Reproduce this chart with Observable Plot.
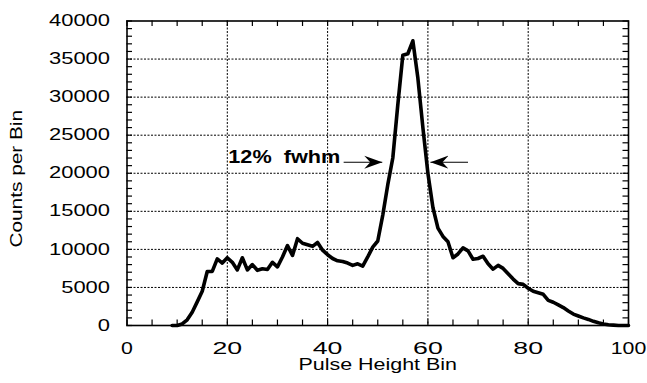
<!DOCTYPE html>
<html><head><meta charset="utf-8">
<script src="https://cdn.jsdelivr.net/npm/d3@7"></script>
<script src="https://cdn.jsdelivr.net/npm/@observablehq/plot@0.6"></script>
<style>
html,body{margin:0;padding:0;background:#fff;}
</style></head><body><div id="chart"></div>
<script>
// ---- data ----
const bins = [9,10,11,12,13,14,15,16,17,18,19,20,21,22,23,24,25,26,27,28,29,30,
  31,32,33,34,35,36,37,38,39,40,41,42,43,44,45,46,47,48,49,50,
  51,52,53,54,55,56,57,58,59,60,61,62,63,64,65,66,67,68,69,70,
  71,72,73,74,75,76,77,78,79,80,81,82,83,84,85,86,87,88,89,90,
  91,92,93,94,95,96,97,98,99,100];
const counts = [0,0,200,750,1750,3100,4500,7100,7100,8750,8200,8900,8300,7300,8900,7300,8000,7250,7450,7350,8300,7700,
  9000,10500,9200,11400,10800,10600,10400,10900,9900,9300,8800,8500,8400,8200,7900,8100,7800,9000,10300,11100,
  14500,18500,22000,29000,35500,35700,37400,32500,26000,20000,15500,12800,11700,11000,8900,9400,10200,9800,8700,8800,
  9100,8100,7400,7900,7500,6800,6100,5500,5400,4900,4500,4300,4100,3300,3050,2700,2350,1900,1500,1250,
  1000,800,550,350,200,100,50,0,0,0];
const xTicks = [0,20,40,60,80,100];
const yTicks = [0,5000,10000,15000,20000,25000,30000,35000,40000];
const xGrid = [20,40,60,80];
const yGrid = [5000,10000,15000,20000,25000,30000,35000];
const xMinor = d3.range(0, 101, 5);
const yMinor = d3.range(0, 40001, 1000);
const annotation = [{label: "12%\u00a0 fwhm", x: 20.2, y: 22200}];
const arrows = [{x1: 43.2, x2: 50.9, y: 21450}, {x1: 68, x2: 60.5, y: 21450}];
const xLabel = "Pulse Height Bin";
const yLabel = "Counts per Bin";

// ---- layout ----
const W = 647, H = 383;
const mL = 126.5, mR = 19, mT = 20.5, mB = 58;
const xMax = 100, yMax = 40000;
const tickPx = 5.5;
const tY = tickPx * yMax / (H - mT - mB);
const tX = tickPx * xMax / (W - mL - mR);
const yLabelCenter = mT + (H - mT - mB) / 2 + 6;
const data = bins.map((b, i) => ({bin: b, count: counts[i]}));

function dart(color) {
  const m = d3.create("svg:marker")
    .attr("viewBox", "-18 -7 19 14")
    .attr("markerWidth", 19).attr("markerHeight", 14)
    .attr("refX", 0).attr("refY", 0)
    .attr("orient", "auto").attr("markerUnits", "userSpaceOnUse")
    .attr("fill", color).attr("stroke", "none");
  m.append("path").attr("d", "M0,0L-18,-6.5L-12,0L-18,6.5Z");
  return m.node();
}

const dash = "2,1.5";
const chart = Plot.plot({
  width: W, height: H,
  marginLeft: mL, marginRight: mR, marginTop: mT, marginBottom: mB,
  x: {domain: [0, xMax], axis: null},
  y: {domain: [0, yMax], axis: null},
  style: {fontFamily: "'Liberation Sans', Arial, sans-serif", background: "white", color: "black"},
  marks: [
    Plot.ruleX(xGrid, {x: d => d, stroke: "black", strokeWidth: 1, strokeDasharray: dash}),
    Plot.ruleY(yGrid, {y: d => d, stroke: "black", strokeWidth: 1, strokeDasharray: dash}),
    Plot.ruleX(xMinor, {x: d => d, y1: 0, y2: tY, stroke: "black", strokeWidth: 1.2}),
    Plot.ruleX(xMinor, {x: d => d, y1: yMax - tY, y2: yMax, stroke: "black", strokeWidth: 1.2}),
    Plot.ruleY(yMinor, {y: d => d, x1: 0, x2: tX, stroke: "black", strokeWidth: 1.2}),
    Plot.ruleY(yMinor, {y: d => d, x1: xMax - tX, x2: xMax, stroke: "black", strokeWidth: 1.2}),
    Plot.line(data, {x: "bin", y: "count", stroke: "black", strokeWidth: 3.6}),
    Plot.link(arrows, {x1: "x1", x2: "x2", y1: "y", y2: "y", stroke: "black", strokeWidth: 1.1, markerEnd: dart}),
    Plot.text(annotation, {x: "x", y: "y", text: "label", textAnchor: "start", fontWeight: "bold", fontSize: 19}),
    Plot.frame({stroke: "black", strokeWidth: 1.6}),
    Plot.text(yTicks, {y: d => d, text: d => String(d), frameAnchor: "left", textAnchor: "end", dx: -17, fontSize: 16}),
    Plot.text(xTicks, {x: d => d, text: d => String(d), frameAnchor: "bottom", lineAnchor: "top", dy: 17, fontSize: 16}),
    Plot.text([xLabel], {text: d => d, frameAnchor: "bottom", lineAnchor: "top", dy: 33, fontSize: 16}),
    Plot.text([yLabel], {text: d => d, frameAnchor: "left", rotate: -90, dx: -110.5, fontSize: 16})
  ]
});
document.getElementById("chart").append(chart);

// widen glyphs to match the reference's stretched lettering, keeping each text's anchor in place
// text-mark groups in mark order: annotation, y ticks, x ticks, x label, y label
const stretch = [1.14, 1.37, 1.33, 1.34, 1.30];
const anchorKind = ["start", "end", "middle", "middle", "middle"];
const groups = chart.querySelectorAll('g[aria-label="text"]');
const svgTop = chart.getBoundingClientRect().top;
groups.forEach((g, gi) => {
  const k = stretch[gi] ?? 1;
  g.querySelectorAll("text").forEach(t => {
    const r0 = t.getBoundingClientRect();
    const L = t.getComputedTextLength();
    let target = L * k;
    if (gi === 2 && t.textContent.length === 2) target += 6;
    t.setAttribute("textLength", target);
    t.setAttribute("lengthAdjust", "spacingAndGlyphs");
    const r1 = t.getBoundingClientRect();
    const rotated = gi === 4;
    let sx = 0, sy = 0;
    const kind = anchorKind[gi];
    if (!rotated) {
      if (kind === "middle") sx = (r0.left + r0.right) / 2 - (r1.left + r1.right) / 2;
      else if (kind === "end") sx = r0.right - r1.right;
      else sx = r0.left - r1.left;
    } else {
      sy = yLabelCenter - ((r1.top + r1.bottom) / 2 - svgTop);
    }
    if (Math.abs(sx) > 0.01 || Math.abs(sy) > 0.01) {
      const tr = t.getAttribute("transform") || "";
      t.setAttribute("transform", `translate(${sx},${sy}) ${tr}`);
    }
  });
});
</script></body></html>
